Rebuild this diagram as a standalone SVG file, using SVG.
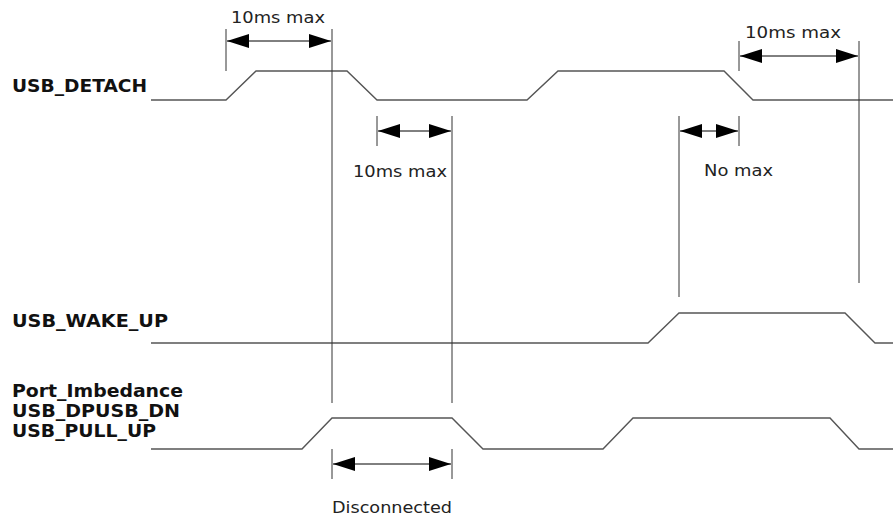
<svg xmlns="http://www.w3.org/2000/svg" width="893" height="517" viewBox="0 0 893 517">
<style>
.sig{fill:none;stroke:#555;stroke-width:1.4}
.vl{fill:none;stroke:#333;stroke-width:1}
.dim{fill:none;stroke:#000;stroke-width:1;marker-start:url(#ah);marker-end:url(#ah)}
.lbl{font-family:"DejaVu Sans",Verdana,sans-serif;font-weight:bold;font-size:17.5px;fill:#111}
.txt{font-family:"DejaVu Sans",Verdana,sans-serif;font-size:16px;fill:#222}
</style>
<defs>
<marker id="ah" viewBox="0 0 22 14" refX="22" refY="7" markerWidth="22" markerHeight="14" markerUnits="userSpaceOnUse" orient="auto-start-reverse">
<path d="M0,0 L22,7 L0,14 z" fill="#000"/>
</marker>
</defs>
<g id="labels">
<text class="lbl" x="12" y="92" textLength="135" lengthAdjust="spacingAndGlyphs">USB_DETACH</text>
<text class="lbl" x="12" y="327" textLength="156" lengthAdjust="spacingAndGlyphs">USB_WAKE_UP</text>
<text class="lbl" x="12" y="397" textLength="171" lengthAdjust="spacingAndGlyphs">Port_Imbedance</text>
<text class="lbl" x="12" y="417" textLength="168" lengthAdjust="spacingAndGlyphs">USB_DPUSB_DN</text>
<text class="lbl" x="12" y="437" textLength="144" lengthAdjust="spacingAndGlyphs">USB_PULL_UP</text>
</g>
<g id="signals">
<path id="sig_detach" class="sig" d="M151,100 H226 L256,71 H347 L377,100 H527 L558,71 H724 L753,100 H893"/>
<path id="sig_wake" class="sig" d="M151,343 H648 L679,313 H845 L875,343 H893"/>
<path id="sig_pull" class="sig" d="M151,449 H302 L332,418 H452 L483,449 H603 L633,418 H830 L859,449 H893"/>
</g>
<g id="connectors">
<line class="vl" x1="226" y1="29" x2="226" y2="71"/>
<line class="vl" x1="332" y1="29" x2="332" y2="403"/>
<line class="vl" x1="377" y1="116" x2="377" y2="146"/>
<line class="vl" x1="452" y1="116" x2="452" y2="403"/>
<line class="vl" x1="679" y1="116" x2="679" y2="297"/>
<line class="vl" x1="739" y1="116" x2="739" y2="146"/>
<line class="vl" x1="739" y1="41" x2="739" y2="71"/>
<line class="vl" x1="859" y1="41" x2="859" y2="283"/>
<line class="vl" x1="332" y1="449" x2="332" y2="479"/>
<line class="vl" x1="452" y1="449" x2="452" y2="479"/>
<line class="dim" x1="227" y1="41" x2="331" y2="41"/>
<line class="dim" x1="378" y1="131" x2="451" y2="131"/>
<line class="dim" x1="680" y1="131" x2="738" y2="131"/>
<line class="dim" x1="740" y1="56" x2="858" y2="56"/>
<line class="dim" x1="333" y1="464" x2="451" y2="464"/>
</g>
<g id="annotations">
<text class="txt" x="231" y="23" textLength="94" lengthAdjust="spacingAndGlyphs">10ms max</text>
<text class="txt" x="353" y="177" textLength="94" lengthAdjust="spacingAndGlyphs">10ms max</text>
<text class="txt" x="745" y="38" textLength="96" lengthAdjust="spacingAndGlyphs">10ms max</text>
<text class="txt" x="704" y="176" textLength="69" lengthAdjust="spacingAndGlyphs">No max</text>
<text class="txt" x="332" y="513" textLength="120" lengthAdjust="spacingAndGlyphs">Disconnected</text>
</g>
</svg>
